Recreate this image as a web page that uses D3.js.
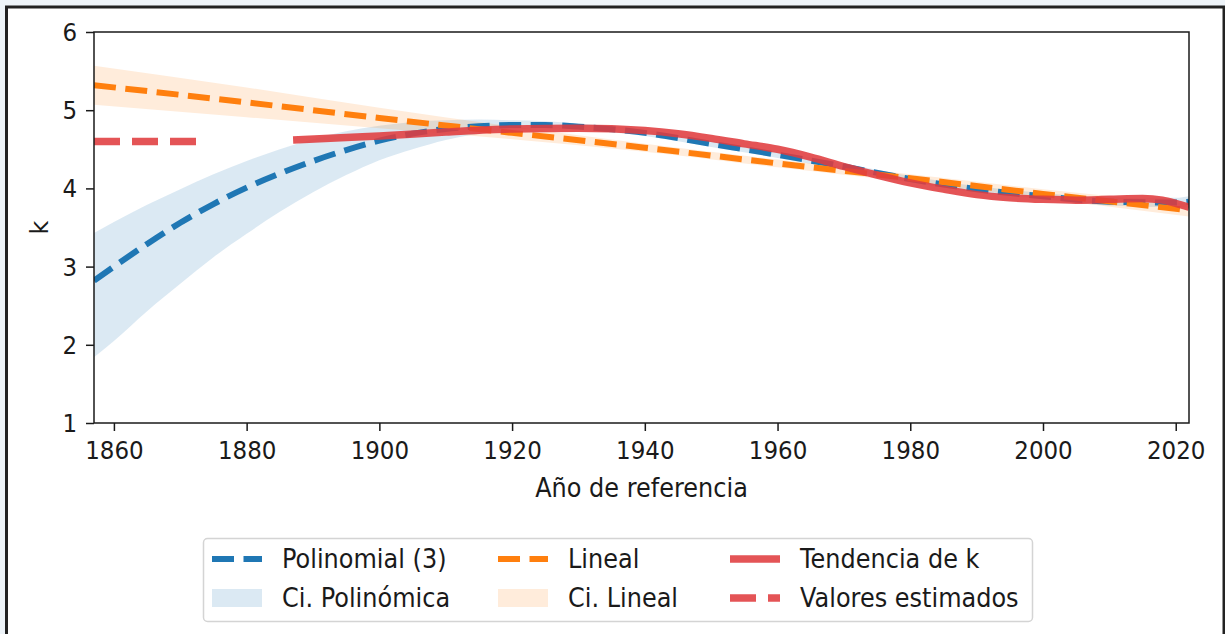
<!DOCTYPE html>
<html>
<head>
<meta charset="utf-8">
<script src="https://cdn.jsdelivr.net/npm/d3@7"></script>
<style>
  body { margin: 0; background: #eef4f9; }
  svg { display: block; font-family: "DejaVu Sans", sans-serif; }
</style>
</head>
<body>
<svg id="chart"></svg>
<script>
"use strict";

// ---- values ----
// polynomial fit (3rd degree) and its confidence band
const polyYears = [1857, 1860, 1865, 1870, 1875, 1880, 1885, 1890, 1895, 1900, 1905, 1910, 1915, 1920, 1925, 1930, 1940, 1950, 1960, 1970, 1980, 1990, 2000, 2010, 2020, 2022];
const polyK     = [2.82, 3.00, 3.29, 3.56, 3.80, 4.01, 4.19, 4.35, 4.49, 4.61, 4.70, 4.76, 4.795, 4.81, 4.81, 4.79, 4.71, 4.57, 4.43, 4.28, 4.12, 3.99, 3.90, 3.83, 3.82, 3.83];
const polyLo    = [1.84, 2.05, 2.43, 2.78, 3.12, 3.42, 3.70, 3.95, 4.17, 4.36, 4.50, 4.62, 4.70, 4.75, 4.77, 4.75, 4.67, 4.53, 4.39, 4.24, 4.08, 3.95, 3.86, 3.78, 3.76, 3.76];
const polyHi    = [3.43, 3.57, 3.79, 3.99, 4.18, 4.35, 4.50, 4.63, 4.73, 4.80, 4.85, 4.87, 4.88, 4.87, 4.86, 4.83, 4.75, 4.61, 4.47, 4.32, 4.16, 4.03, 3.94, 3.88, 3.88, 3.90];

// linear fit and its confidence band
const linYears = [1857, 1880, 1900, 1920, 1940, 1960, 1980, 2000, 2022];
const linK     = [5.32, 5.10, 4.90, 4.71, 4.52, 4.32, 4.13, 3.93, 3.72];
const linLo    = [5.07, 4.91, 4.77, 4.63, 4.47, 4.27, 4.08, 3.87, 3.64];
const linHi    = [5.57, 5.29, 5.03, 4.79, 4.57, 4.37, 4.18, 3.99, 3.80];

// trend of k
const trendYears = [1887, 1895, 1900, 1910, 1920, 1930, 1940, 1945, 1950, 1955, 1960, 1965, 1970, 1975, 1980, 1985, 1990, 1995, 2000, 2005, 2010, 2015, 2018, 2020, 2022];
const trendK     = [4.62, 4.65, 4.67, 4.72, 4.76, 4.77, 4.74, 4.70, 4.64, 4.57, 4.50, 4.40, 4.28, 4.17, 4.07, 3.99, 3.92, 3.88, 3.86, 3.85, 3.86, 3.87, 3.85, 3.81, 3.76];

// estimated values
const estYears = [1857, 1874];
const estK     = [4.60, 4.60];

const xTicks = [1860, 1880, 1900, 1920, 1940, 1960, 1980, 2000, 2020];
const yTicks = [1, 2, 3, 4, 5, 6];

const legendLabels = ["Polinomial (3)", "Ci. Polinómica", "Lineal", "Ci. Lineal", "Tendencia de k", "Valores estimados"];

// ---- drawing ----
const width = 1225;
const height = 634;
const plot = { left: 94, right: 1189, top: 32, bottom: 423 };

const blue = "#1f77b4";
const orange = "#ff7f0e";
const red = "#e03c3f";
const ink = "#1a1a1a";
const stretch = "scale(1,1.1)"; // glyphs in the figure are a little taller than wide

const svg = d3.select("#chart")
    .attr("width", width)
    .attr("height", height);

// page frame
svg.append("rect")
    .attr("width", width)
    .attr("height", height)
    .attr("fill", "#eef4f9");
svg.append("rect")
    .attr("x", 6.5)
    .attr("y", 7)
    .attr("width", 1217.5)
    .attr("height", 700)
    .attr("fill", "white")
    .attr("stroke", "#222")
    .attr("stroke-width", 3);

const x = d3.scaleLinear().domain([1857, 2022]).range([plot.left, plot.right]);
const y = d3.scaleLinear().domain([1, 6]).range([plot.bottom, plot.top]);

svg.append("clipPath").attr("id", "clip")
    .append("rect")
    .attr("x", plot.left)
    .attr("y", plot.top)
    .attr("width", plot.right - plot.left)
    .attr("height", plot.bottom - plot.top);

const g = svg.append("g").attr("clip-path", "url(#clip)");

const band = d3.area()
    .x(d => x(d[0]))
    .y0(d => y(d[1]))
    .y1(d => y(d[2]))
    .curve(d3.curveMonotoneX);

const line = d3.line()
    .x(d => x(d[0]))
    .y(d => y(d[1]))
    .curve(d3.curveMonotoneX);

// confidence bands
g.append("path")
    .attr("d", band(polyYears.map((yr, i) => [yr, polyLo[i], polyHi[i]])))
    .attr("fill", blue)
    .attr("fill-opacity", 0.16);

g.append("path")
    .attr("d", band(linYears.map((yr, i) => [yr, linLo[i], linHi[i]])))
    .attr("fill", orange)
    .attr("fill-opacity", 0.15);

// fitted lines
g.append("path")
    .attr("d", line(polyYears.map((yr, i) => [yr, polyK[i]])))
    .attr("fill", "none")
    .attr("stroke", blue)
    .attr("stroke-width", 6)
    .attr("stroke-dasharray", "22,9.5");

g.append("path")
    .attr("d", line(linYears.map((yr, i) => [yr, linK[i]])))
    .attr("fill", "none")
    .attr("stroke", orange)
    .attr("stroke-width", 6)
    .attr("stroke-dasharray", "22,9.5");

// trend and estimates
g.append("path")
    .attr("d", line(trendYears.map((yr, i) => [yr, trendK[i]])))
    .attr("fill", "none")
    .attr("stroke", red)
    .attr("stroke-opacity", 0.88)
    .attr("stroke-width", 7.5);

g.append("path")
    .attr("d", line(estYears.map((yr, i) => [yr, estK[i]])))
    .attr("fill", "none")
    .attr("stroke", red)
    .attr("stroke-opacity", 0.88)
    .attr("stroke-width", 7.5)
    .attr("stroke-dasharray", "26,12");

// axes
svg.append("g")
    .attr("transform", `translate(0,${plot.bottom})`)
    .call(d3.axisBottom(x).tickValues(xTicks).tickFormat(d3.format("d")).tickSize(8).tickPadding(9))
    .call(a => a.select(".domain").remove())
    .call(a => a.selectAll("line").attr("stroke", ink).attr("stroke-width", 1.5))
    .call(a => a.selectAll("text")
        .attr("y", null)
        .attr("dy", null)
        .attr("transform", `translate(0,36) ${stretch}`)
        .attr("fill", ink)
        .attr("font-size", 23)
        .attr("font-family", "DejaVu Sans"));

svg.append("g")
    .attr("transform", `translate(${plot.left},0)`)
    .call(d3.axisLeft(y).tickValues(yTicks).tickFormat(d3.format("d")).tickSize(8).tickPadding(9))
    .call(a => a.select(".domain").remove())
    .call(a => a.selectAll("line").attr("stroke", ink).attr("stroke-width", 1.5))
    .call(a => a.selectAll("text")
        .attr("dy", null)
        .attr("transform", `translate(0,8.5) ${stretch}`)
        .attr("fill", ink)
        .attr("font-size", 23)
        .attr("font-family", "DejaVu Sans"));

// spines
svg.append("rect")
    .attr("x", plot.left)
    .attr("y", plot.top)
    .attr("width", plot.right - plot.left)
    .attr("height", plot.bottom - plot.top)
    .attr("fill", "none")
    .attr("stroke", ink)
    .attr("stroke-width", 1.5);

// axis titles
svg.append("text")
    .attr("transform", `translate(${(plot.left + plot.right) / 2},497) ${stretch}`)
    .attr("text-anchor", "middle")
    .attr("font-size", 24)
    .attr("fill", ink)
    .text("Año de referencia");

svg.append("text")
    .attr("transform", `translate(48,${(plot.top + plot.bottom) / 2}) rotate(-90)`)
    .attr("text-anchor", "middle")
    .attr("font-size", 24)
    .attr("fill", ink)
    .text("k");

// legend
const legend = svg.append("g");
legend.append("rect")
    .attr("x", 203.5)
    .attr("y", 538.5)
    .attr("width", 829)
    .attr("height", 83)
    .attr("rx", 4)
    .attr("fill", "white")
    .attr("stroke", "#d4d4d4")
    .attr("stroke-width", 1.5);

const colX = [212, 498, 730];
const rowY = [559, 598];
const handleLen = 50;

const legendItems = [
    { label: legendLabels[0], kind: "line", color: blue, dash: "22,9.5", w: 6 },
    { label: legendLabels[1], kind: "patch", color: blue, opacity: 0.16 },
    { label: legendLabels[2], kind: "line", color: orange, dash: "22,9.5", w: 6 },
    { label: legendLabels[3], kind: "patch", color: orange, opacity: 0.15 },
    { label: legendLabels[4], kind: "line", color: red, dash: null, w: 7.5 },
    { label: legendLabels[5], kind: "line", color: red, dash: "26,12", w: 7.5 }
];

legendItems.forEach((d, i) => {
    const cx = colX[Math.floor(i / 2)];
    const cy = rowY[i % 2];
    const item = legend.append("g").attr("transform", `translate(${cx},${cy})`);
    if (d.kind === "patch") {
        item.append("rect")
            .attr("x", 0)
            .attr("y", -9)
            .attr("width", handleLen)
            .attr("height", 18)
            .attr("fill", d.color)
            .attr("fill-opacity", d.opacity);
    } else {
        item.append("line")
            .attr("x1", 0)
            .attr("x2", handleLen)
            .attr("stroke", d.color)
            .attr("stroke-opacity", d.color === red ? 0.88 : 1)
            .attr("stroke-width", d.w)
            .attr("stroke-dasharray", d.dash);
    }
    item.append("text")
        .attr("transform", `translate(${handleLen + 20},9) ${stretch}`)
        .attr("font-size", 24)
        .attr("fill", ink)
        .text(d.label);
});
</script>
</body>
</html>
